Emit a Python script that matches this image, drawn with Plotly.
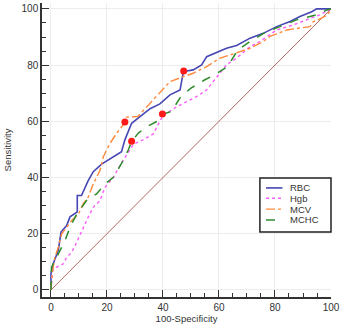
import plotly.graph_objects as go

rbc_x = [0, 0, 0.8, 2.6, 3.6, 5.6, 6.8, 9.4, 9.4, 10.9, 13.3, 15.1, 18.1, 22.3, 25.2, 26.4, 27.6, 28.8, 31.8, 35.4, 38.9, 42.5, 46.1, 47.3, 50.8, 53.8, 55.6, 58.6, 62.7, 66.3, 71.1, 75.8, 80.6, 85.4, 88.9, 93.1, 94.9, 100]
rbc_y = [0, 5.7, 9.3, 14, 20.6, 22.9, 26, 27.8, 33.6, 33.6, 38.9, 42.1, 44.8, 47.4, 49.2, 53.4, 56.3, 59.3, 61.7, 64.5, 66.2, 69.4, 71.2, 77.7, 78.3, 80.1, 83, 84.2, 86, 87, 89.6, 91.3, 93.7, 95.5, 97.3, 99, 100, 100]

hgb_x = [0, 0.6, 2, 4.4, 5.6, 7.4, 9.2, 11, 13.3, 15.1, 17.5, 19.3, 22.3, 24.6, 28.2, 29.4, 33, 36.5, 38.9, 40.1, 41.3, 44.9, 48.5, 52, 55.6, 59.2, 62.7, 66.3, 71.1, 74.6, 80.6, 86.5, 91.3, 96, 100]
hgb_y = [0, 6.9, 8.1, 9.3, 11.6, 13.4, 17, 21.1, 25.9, 29.4, 31.8, 36.5, 40.1, 44.2, 49.8, 51.8, 53.5, 55.5, 60, 62.3, 62.9, 65.2, 67, 68.8, 71.2, 75.9, 80.1, 82.5, 86.6, 88.4, 92.5, 94.3, 96.1, 97.9, 100]

mcv_x = [0, 0.4, 1.4, 2.6, 3.8, 5.6, 7.4, 9.8, 11.5, 13.3, 15.1, 17.5, 18.7, 21.1, 23.5, 26.4, 27, 31, 34.2, 37.7, 42.5, 47.3, 50.8, 55.6, 60.4, 63.9, 67.5, 71.1, 75.8, 78.2, 84.2, 92.5, 93.7, 95.2, 98.8, 100]
mcv_y = [0, 5.7, 11.6, 15.2, 19.9, 22.3, 24.7, 27, 30.6, 33, 37.7, 42.5, 47.4, 52.2, 55.8, 59.5, 61.5, 61.7, 65.2, 68.8, 74.1, 75.9, 77.1, 79.5, 82.5, 83.6, 84.8, 86, 88.4, 90.2, 92.5, 93.7, 95.5, 96, 97.9, 100]

mchc_x = [0, 0.2, 1.4, 3.2, 5, 6.8, 9.2, 12.7, 16.3, 19.3, 22.3, 25.2, 27.6, 28.8, 31.2, 34.2, 38.9, 39.8, 43, 46.4, 50, 54.8, 58.3, 63.1, 64.5, 66.7, 71.1, 77, 81.8, 87.7, 94.9, 98.5, 100]
mchc_y = [0, 8.1, 10.4, 14, 17.5, 22.3, 27, 31.8, 34.2, 37.7, 40.1, 45, 49.8, 52.8, 55.8, 58.1, 60.5, 62.5, 63.5, 68.8, 71.8, 74.7, 76.5, 79.5, 82, 85.4, 88.4, 91.9, 93.7, 96.1, 97.9, 99.6, 100]

ref_x = [0, 100]
ref_y = [0, 100]

cut_x = [26.4, 28.8, 39.8, 47.4]
cut_y = [59.8, 52.9, 62.6, 77.9]

tick_vals = [0, 20, 40, 60, 80, 100]

series_names = ["RBC", "Hgb", "MCV", "MCHC"]
series_colors = ["#4646b4", "#ff5cff", "#ff8a3c", "#2e8b2e"]
series_dash = ["solid", "dot", "dashdot", "dash"]
series_width = [1.6, 1.4, 1.4, 1.5]
series_x = [rbc_x, hgb_x, mcv_x, mchc_x]
series_y = [rbc_y, hgb_y, mcv_y, mchc_y]

fig = go.Figure()
fig.add_trace(go.Scatter(x=ref_x, y=ref_y, mode="lines", line=dict(color="#b46464", width=1),
                         showlegend=False, hoverinfo="skip"))
for nm, col, dsh, wd, xs, ys in zip(series_names, series_colors, series_dash, series_width, series_x, series_y):
    fig.add_trace(go.Scatter(x=xs, y=ys, mode="lines", name=nm,
                             line=dict(color=col, width=wd, dash=dsh), showlegend=False))
fig.add_trace(go.Scatter(x=cut_x, y=cut_y, mode="markers",
                         marker=dict(color="#ff1a1a", size=7, symbol="circle"), showlegend=False))

axis_common = dict(
    tickvals=tick_vals,
    showgrid=True, gridcolor="#ececec", gridwidth=1,
    zeroline=False,
    showline=True, linecolor="#333333", linewidth=1.5,
    ticks="inside", ticklen=7, tickwidth=1.2, tickcolor="#333333",
    minor=dict(dtick=5, ticks="inside", ticklen=4, tickcolor="#333333", showgrid=False),
    tickfont=dict(family="Liberation Sans, Arial", size=10, color="#333333"),
)

# custom compact legend (paper coordinates)
shapes = [dict(type="rect", xref="paper", yref="paper", x0=0.754, x1=1.0, y0=0.221, y1=0.405,
               line=dict(color="#222222", width=1.5), fillcolor="white", layer="above")]
annotations = []
entry_y = [0.371, 0.336, 0.299, 0.262]
for nm, col, dsh, wd, ey in zip(series_names, series_colors, series_dash, series_width, entry_y):
    shapes.append(dict(type="line", xref="paper", yref="paper", x0=0.775, x1=0.832, y0=ey, y1=ey,
                       line=dict(color=col, width=wd, dash=dsh), layer="above"))
    annotations.append(dict(xref="paper", yref="paper", x=0.852, y=ey, text=nm, showarrow=False,
                            xanchor="left", yanchor="middle",
                            font=dict(family="Liberation Sans, Arial", size=9.5, color="#333333")))

fig.update_layout(
    width=342, height=328,
    margin=dict(l=42, r=11, t=3, b=31),
    paper_bgcolor="white", plot_bgcolor="white",
    font=dict(family="Liberation Sans, Arial", color="#333333"),
    xaxis=dict(range=[-3.2, 100], title=dict(text="100-Specificity", font=dict(size=9.5), standoff=3), **axis_common),
    yaxis=dict(range=[-2.5, 102.1], title=dict(text="Sensitivity", font=dict(size=9.5), standoff=8), **axis_common),
    shapes=shapes,
    annotations=annotations,
    showlegend=False,
)

fig.write_html("out.html")
